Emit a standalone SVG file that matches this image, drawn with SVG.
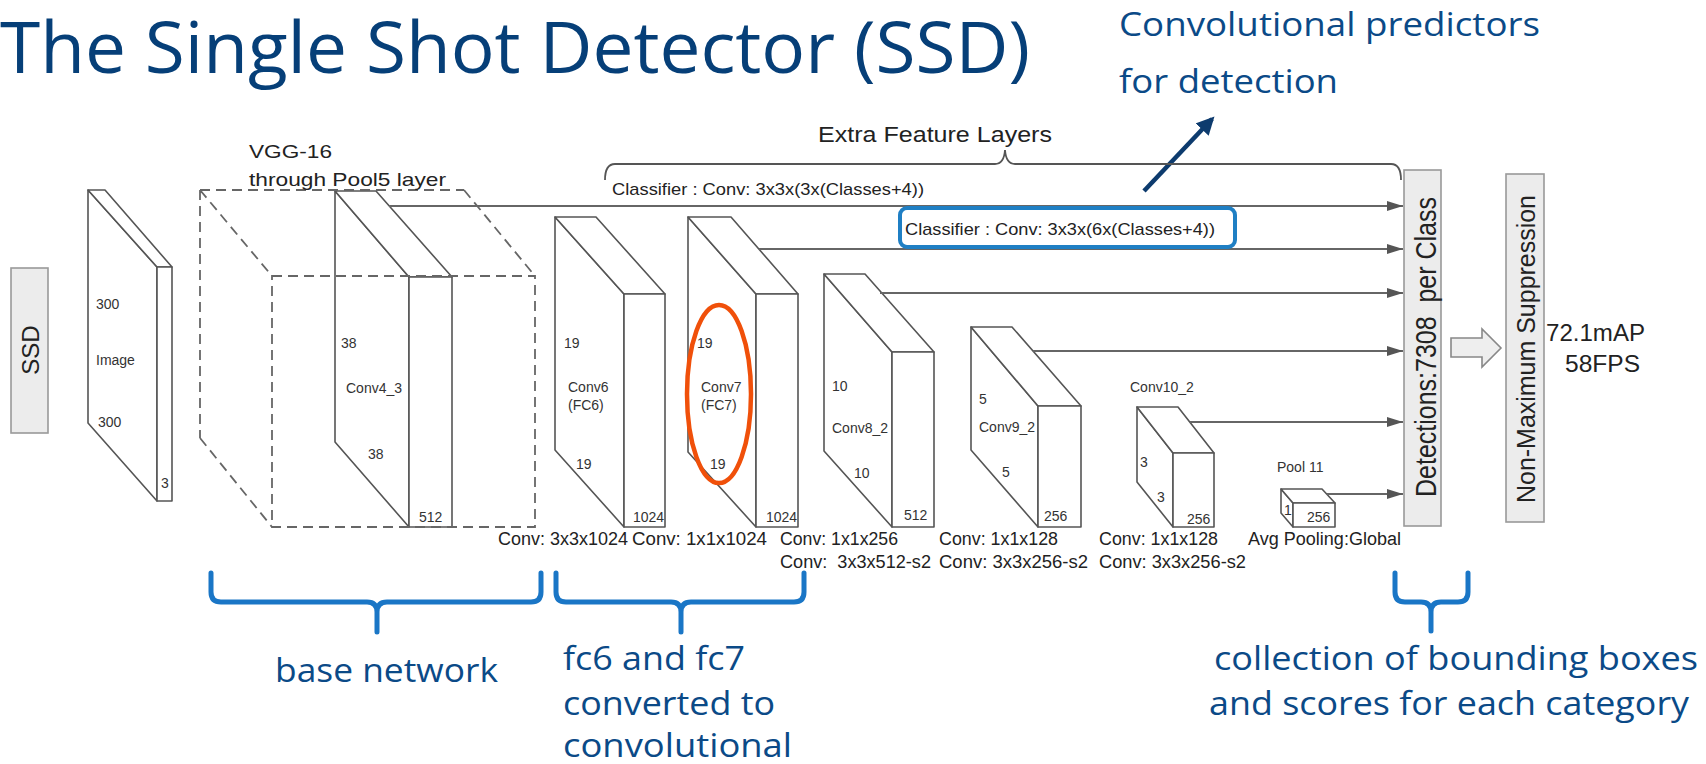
<svg xmlns="http://www.w3.org/2000/svg" width="1706" height="764" viewBox="0 0 1706 764">
  <defs>
    <style>
      .edge { fill: #ffffff; stroke: #555555; stroke-width: 1.6; stroke-linejoin: round; }
      .dash { fill: none; stroke: #666666; stroke-width: 1.8; stroke-dasharray: 10 6; }
      .lbl { font-family: "Liberation Sans", Arial, sans-serif; font-size: 14px; fill: #333333; }
      .cap { font-family: "Liberation Sans", Arial, sans-serif; font-size: 18px; fill: #222222; }
      .big { font-family: "Liberation Sans", Arial, sans-serif; fill: #222222; }
      .note { font-family: "Open Sans", "Noto Sans", sans-serif; font-size: 32px; fill: #0b4a87; }
      .flow { fill: none; stroke: #666666; stroke-width: 2; marker-end: url(#tip); }
      .brace { fill: none; stroke: #1a76c6; stroke-width: 5; stroke-linecap: round; stroke-linejoin: round; }
      .panel { fill: #ececec; stroke: #999999; stroke-width: 1.6; }
    </style>
    <marker id="tip" viewBox="0 0 16 10" refX="16" refY="5" markerWidth="16" markerHeight="10" markerUnits="userSpaceOnUse" orient="auto">
      <path d="M0,0 L16,5 L0,10 z" fill="#555555"/>
    </marker>
    <marker id="navy" viewBox="0 0 10 10" refX="8" refY="5" markerWidth="4" markerHeight="4" orient="auto">
      <path d="M0,0 L10,5 L0,10 z" fill="#0d3b6e"/>
    </marker>
  </defs>

  <rect width="1706" height="764" fill="#ffffff"/>

  <!-- heading and callout -->
  <text x="0" y="73" font-family="'Open Sans', 'Noto Sans', sans-serif" font-size="72" fill="#063f78" textLength="1030" lengthAdjust="spacingAndGlyphs">The Single Shot Detector (SSD)</text>
  <text class="note" x="1119" y="36" textLength="421" lengthAdjust="spacingAndGlyphs">Convolutional predictors</text>
  <text class="note" x="1119" y="93" textLength="219" lengthAdjust="spacingAndGlyphs">for detection</text>
  <line x1="1144" y1="191" x2="1212" y2="119" stroke="#0d3b6e" stroke-width="4.5" marker-end="url(#navy)"/>

  <!-- SSD tag -->
  <g id="ssd">
    <rect class="panel" x="11" y="268" width="37" height="165"/>
    <text class="big" font-size="24" text-anchor="middle" transform="translate(39,350) rotate(-90)">SSD</text>
  </g>

  <!-- input image -->
  <g id="image">
    <polygon class="edge" points="88,190 157,267 157,501 88,423"/>
    <polygon class="edge" points="88,190 105,190 172,267 157,267"/>
    <rect class="edge" x="157" y="267" width="15" height="234"/>
    <text class="lbl" x="96" y="309">300</text>
    <text class="lbl" x="96" y="365">Image</text>
    <text class="lbl" x="98" y="427">300</text>
    <text class="lbl" x="161" y="488">3</text>
  </g>

  <!-- Conv4_3 -->
  <g id="conv4_3">
    <polygon class="edge" points="335,191 409,277 409,527 335,442"/>
    <polygon class="edge" points="335,191 376,191 452,277 409,277"/>
    <rect class="edge" x="409" y="277" width="43" height="250"/>
    <text class="lbl" x="341" y="348">38</text>
    <text class="lbl" x="346" y="393">Conv4_3</text>
    <text class="lbl" x="368" y="459">38</text>
    <text class="lbl" x="419" y="522">512</text>
  </g>

  <!-- VGG-16 block outline -->
  <g id="vgg16">
    <path class="dash" d="M200,190 L464,190 M200,190 L200,438 M200,190 L272,276 M464,190 L535,276 M200,438 L272,527 M272,276 L535,276 L535,527 L272,527 Z"/>
    <text class="big" x="249" y="158" font-size="19" textLength="83" lengthAdjust="spacingAndGlyphs">VGG-16</text>
    <text class="big" x="249" y="186" font-size="19" textLength="197" lengthAdjust="spacingAndGlyphs">through Pool5 layer</text>
  </g>

  <!-- Conv6 (FC6) -->
  <g id="conv6">
    <polygon class="edge" points="555,217 624,294 624,527 555,450"/>
    <polygon class="edge" points="555,217 596,217 665,294 624,294"/>
    <rect class="edge" x="624" y="294" width="41" height="233"/>
    <text class="lbl" x="564" y="348">19</text>
    <text class="lbl" x="568" y="392">Conv6</text>
    <text class="lbl" x="568" y="410">(FC6)</text>
    <text class="lbl" x="576" y="469">19</text>
    <text class="lbl" x="633" y="522">1024</text>
  </g>

  <!-- Conv7 (FC7) -->
  <g id="conv7">
    <polygon class="edge" points="688,217 756,294 756,527 688,452"/>
    <polygon class="edge" points="688,217 731,217 798,294 756,294"/>
    <rect class="edge" x="756" y="294" width="42" height="233"/>
    <text class="lbl" x="697" y="348">19</text>
    <text class="lbl" x="701" y="392">Conv7</text>
    <text class="lbl" x="701" y="410">(FC7)</text>
    <text class="lbl" x="710" y="469">19</text>
    <text class="lbl" x="766" y="522">1024</text>
    <ellipse cx="719" cy="394" rx="32" ry="89" fill="none" stroke="#f0500a" stroke-width="4.5"/>
  </g>

  <!-- Conv8_2 -->
  <g id="conv8_2">
    <polygon class="edge" points="824,274 892,352 892,527 824,451"/>
    <polygon class="edge" points="824,274 865,274 934,352 892,352"/>
    <rect class="edge" x="892" y="352" width="42" height="175"/>
    <text class="lbl" x="832" y="391">10</text>
    <text class="lbl" x="832" y="433">Conv8_2</text>
    <text class="lbl" x="854" y="478">10</text>
    <text class="lbl" x="904" y="520">512</text>
  </g>

  <!-- Conv9_2 -->
  <g id="conv9_2">
    <polygon class="edge" points="971,327 1038,406 1038,527 971,450"/>
    <polygon class="edge" points="971,327 1012,327 1081,406 1038,406"/>
    <rect class="edge" x="1038" y="406" width="43" height="121"/>
    <text class="lbl" x="979" y="404">5</text>
    <text class="lbl" x="979" y="432">Conv9_2</text>
    <text class="lbl" x="1002" y="477">5</text>
    <text class="lbl" x="1044" y="521">256</text>
  </g>

  <!-- Conv10_2 -->
  <g id="conv10_2">
    <polygon class="edge" points="1137,407 1173,453 1173,527 1137,482"/>
    <polygon class="edge" points="1137,407 1178,407 1214,453 1173,453"/>
    <rect class="edge" x="1173" y="453" width="41" height="74"/>
    <text class="lbl" x="1130" y="392">Conv10_2</text>
    <text class="lbl" x="1140" y="467">3</text>
    <text class="lbl" x="1157" y="502">3</text>
    <text class="lbl" x="1187" y="524">256</text>
  </g>

  <!-- Pool 11 -->
  <g id="pool11">
    <polygon class="edge" points="1281,489 1293,503 1293,527 1281,513"/>
    <polygon class="edge" points="1281,489 1322,489 1335,503 1293,503"/>
    <rect class="edge" x="1293" y="503" width="42" height="24"/>
    <text class="lbl" x="1277" y="472">Pool 11</text>
    <text class="lbl" x="1284" y="515" font-size="12">1</text>
    <text class="lbl" x="1307" y="522" font-size="13">256</text>
  </g>

  <!-- layer operations -->
  <g id="ops">
    <text class="cap" x="498" y="545" textLength="130" lengthAdjust="spacingAndGlyphs">Conv: 3x3x1024</text>
    <text class="cap" x="632" y="545" textLength="135" lengthAdjust="spacingAndGlyphs">Conv: 1x1x1024</text>
    <text class="cap" x="780" y="545" textLength="118" lengthAdjust="spacingAndGlyphs">Conv: 1x1x256</text>
    <text class="cap" x="780" y="568" textLength="151" lengthAdjust="spacingAndGlyphs" xml:space="preserve">Conv:  3x3x512-s2</text>
    <text class="cap" x="939" y="545" textLength="119" lengthAdjust="spacingAndGlyphs">Conv: 1x1x128</text>
    <text class="cap" x="939" y="568" textLength="149" lengthAdjust="spacingAndGlyphs">Conv: 3x3x256-s2</text>
    <text class="cap" x="1099" y="545" textLength="119" lengthAdjust="spacingAndGlyphs">Conv: 1x1x128</text>
    <text class="cap" x="1099" y="568" textLength="147" lengthAdjust="spacingAndGlyphs">Conv: 3x3x256-s2</text>
    <text class="cap" x="1248" y="545" textLength="153" lengthAdjust="spacingAndGlyphs">Avg Pooling:Global</text>
  </g>

  <!-- extra feature layers brace -->
  <g id="extra-layers">
    <path d="M605,180 Q605,164 615,164 L995,164 Q1004,164 1005,150 Q1006,164 1015,164 L1391,164 Q1401,164 1401,180" fill="none" stroke="#555555" stroke-width="1.8"/>
    <text class="big" x="818" y="142" font-size="22" textLength="234" lengthAdjust="spacingAndGlyphs">Extra Feature Layers</text>
  </g>

  <!-- classifier connectors -->
  <g id="connectors">
    <line class="flow" x1="389" y1="206" x2="1403" y2="206"/>
    <line class="flow" x1="759" y1="249" x2="1403" y2="249"/>
    <line class="flow" x1="880" y1="293" x2="1403" y2="293"/>
    <line class="flow" x1="1033" y1="351" x2="1403" y2="351"/>
    <line class="flow" x1="1190" y1="422" x2="1403" y2="422"/>
    <line class="flow" x1="1327" y1="494" x2="1403" y2="494"/>
    <polygon points="1451,338 1482,338 1482,329 1501,348 1482,367 1482,357 1451,357" fill="#eeeeee" stroke="#888888" stroke-width="1.6"/>
  </g>

  <g id="classifier-a">
    <text class="big" x="612" y="195" font-size="17" textLength="312" lengthAdjust="spacingAndGlyphs">Classifier : Conv: 3x3x(3x(Classes+4))</text>
  </g>

  <g id="classifier-b">
    <rect x="900" y="208" width="335" height="39" rx="7" fill="#ffffff" stroke="#1f7fc4" stroke-width="4"/>
    <text class="big" x="905" y="235" font-size="17" textLength="310" lengthAdjust="spacingAndGlyphs">Classifier : Conv: 3x3x(6x(Classes+4))</text>
  </g>

  <!-- detections -->
  <g id="detections">
    <rect class="panel" x="1404" y="170" width="37" height="356"/>
    <text class="big" font-size="30" text-anchor="middle" textLength="300" lengthAdjust="spacingAndGlyphs" transform="translate(1436,347) rotate(-90)" xml:space="preserve">Detections:7308  per Class</text>
  </g>

  <!-- non-maximum suppression -->
  <g id="nms">
    <rect class="panel" x="1506" y="174" width="38" height="348"/>
    <text class="big" font-size="26" text-anchor="middle" textLength="308" lengthAdjust="spacingAndGlyphs" transform="translate(1535,349) rotate(-90)">Non-Maximum Suppression</text>
  </g>

  <g id="result">
    <text class="big" x="1546" y="341" font-size="23" textLength="99" lengthAdjust="spacingAndGlyphs">72.1mAP</text>
    <text class="big" x="1565" y="372" font-size="23" textLength="75" lengthAdjust="spacingAndGlyphs">58FPS</text>
  </g>

  <!-- annotation braces -->
  <g id="base-network">
    <path class="brace" d="M211,573 L211,592 Q211,602 221,602 L367,602 Q377,602 377,612 L377,632 M377,612 Q377,602 387,602 L531,602 Q541,602 541,592 L541,573"/>
    <text class="note" x="275" y="682" textLength="223" lengthAdjust="spacingAndGlyphs">base network</text>
  </g>

  <g id="fc-converted">
    <path class="brace" d="M556,573 L556,592 Q556,602 566,602 L671,602 Q681,602 681,612 L681,632 M681,612 Q681,602 691,602 L794,602 Q804,602 804,592 L804,573"/>
    <text class="note" x="563" y="670" textLength="182" lengthAdjust="spacingAndGlyphs">fc6 and fc7</text>
    <text class="note" x="563" y="715" textLength="212" lengthAdjust="spacingAndGlyphs">converted to</text>
    <text class="note" x="563" y="757" textLength="229" lengthAdjust="spacingAndGlyphs">convolutional</text>
  </g>

  <g id="box-collection">
    <path class="brace" d="M1395,573 L1395,592 Q1395,602 1405,602 L1421,602 Q1431,602 1431,612 L1431,631 M1431,612 Q1431,602 1441,602 L1458,602 Q1468,602 1468,592 L1468,573"/>
    <text class="note" x="1214" y="670" textLength="484" lengthAdjust="spacingAndGlyphs">collection of bounding boxes</text>
    <text class="note" x="1209" y="715" textLength="480" lengthAdjust="spacingAndGlyphs">and scores for each category</text>
  </g>
</svg>
